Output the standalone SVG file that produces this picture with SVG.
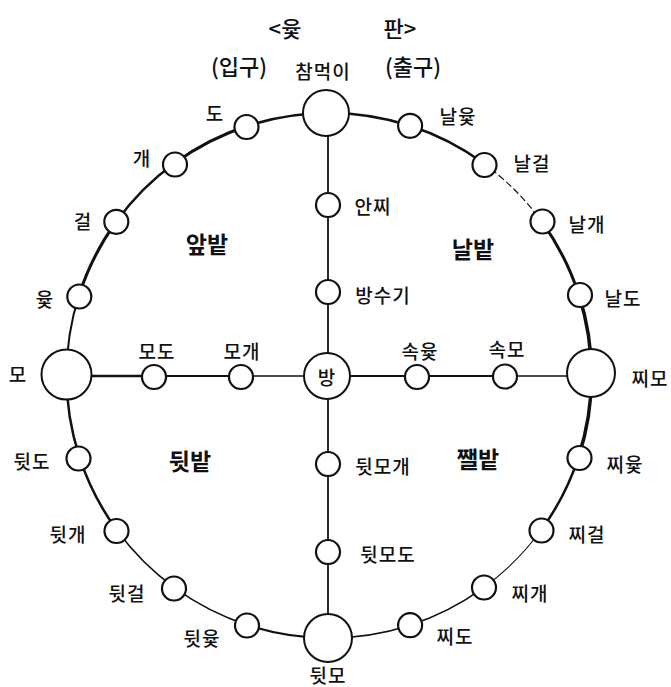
<svg xmlns="http://www.w3.org/2000/svg" width="671" height="687" viewBox="0 0 671 687">
<style>
  .bg{fill:#fff}
  .ring{fill:none;stroke:#111;stroke-linecap:round}
  .cross{fill:none;stroke:#111;stroke-linecap:butt}
  .n{fill:#fff;stroke:#111;stroke-width:2.2}
  .big{fill:#fff;stroke:#111;stroke-width:2}
  .lbl{font-family:"Noto Sans CJK KR","Noto Sans",sans-serif;font-size:19px;font-weight:500;text-anchor:middle;dominant-baseline:central;fill:#111;letter-spacing:1px}
  .ttl{font-family:"Noto Sans CJK KR","Noto Sans",sans-serif;font-size:22px;font-weight:500;text-anchor:middle;dominant-baseline:central;fill:#111}
  .field{font-family:"Noto Sans CJK KR","Noto Sans",sans-serif;font-size:23px;font-weight:bold;text-anchor:middle;dominant-baseline:central;fill:#111}
</style>
<rect class="bg" x="0" y="0" width="671" height="687"/>

<g id="title">
  <text class="ttl" x="285" y="27">&lt;윷</text>
  <text class="ttl" x="400" y="27">판&gt;</text>
  <text class="ttl" x="239" y="65">(입구)</text>
  <text class="ttl" x="413" y="65">(출구)</text>
</g>

<g id="connectors">
  <path class="ring" stroke-width="2.5" d="M329 113 A262.5 262.5 0 0 1 410.1 125.8"/>
  <path class="ring" stroke-width="2.5" d="M410.1 125.8 A262.5 262.5 0 0 1 483.3 163.1"/>
  <path class="ring" stroke-width="1.2" stroke-dasharray="6 4" d="M483.3 163.1 A262.5 262.5 0 0 1 541.4 221.2"/>
  <path class="ring" stroke-width="3" d="M541.4 221.2 A262.5 262.5 0 0 1 578.7 294.4"/>
  <path class="ring" stroke-width="3.5" d="M578.7 294.4 A262.5 262.5 0 0 1 591.5 375.5"/>
  <path class="ring" stroke-width="3.5" d="M591.5 375.5 A262.5 262.5 0 0 1 578.7 456.6"/>
  <path class="ring" stroke-width="2.5" d="M578.7 456.6 A262.5 262.5 0 0 1 541.4 529.8"/>
  <path class="ring" stroke-width="1.1" d="M541.4 529.8 A262.5 262.5 0 0 1 483.3 587.9"/>
  <path class="ring" stroke-width="1.6" d="M483.3 587.9 A262.5 262.5 0 0 1 410.1 625.2"/>
  <path class="ring" stroke-width="1.6" d="M410.1 625.2 A262.5 262.5 0 0 1 329 638"/>
  <path class="ring" stroke-width="2" d="M329 638 A262.5 262.5 0 0 1 247.9 625.2"/>
  <path class="ring" stroke-width="1.5" d="M247.9 625.2 A262.5 262.5 0 0 1 174.7 587.9"/>
  <path class="ring" stroke-width="1.5" d="M174.7 587.9 A262.5 262.5 0 0 1 116.6 529.8"/>
  <path class="ring" stroke-width="2.5" d="M116.6 529.8 A262.5 262.5 0 0 1 79.3 456.6"/>
  <path class="ring" stroke-width="2.5" d="M79.3 456.6 A262.5 262.5 0 0 1 66.5 375.5"/>
  <path class="ring" stroke-width="2" d="M66.5 375.5 A262.5 262.5 0 0 1 79.3 294.4"/>
  <path class="ring" stroke-width="3" d="M79.3 294.4 A262.5 262.5 0 0 1 116.6 221.2"/>
  <path class="ring" stroke-width="2.5" d="M116.6 221.2 A262.5 262.5 0 0 1 174.7 163.1"/>
  <path class="ring" stroke-width="3" d="M174.7 163.1 A262.5 262.5 0 0 1 247.9 125.8"/>
  <path class="ring" stroke-width="2.5" d="M247.9 125.8 A262.5 262.5 0 0 1 329 113"/>
  <path class="cross" stroke-width="1.8" d="M328 113 L328 638"/>
  <path class="cross" stroke-width="2.5" d="M66.5 376 L154 376"/>
  <path class="cross" stroke-width="2" d="M154 376 L241 376"/>
  <path class="cross" stroke-width="1.3" d="M241 376 L328 376"/>
  <path class="cross" stroke-width="2" d="M328 376 L505 376"/>
  <path class="cross" stroke-width="1.5" d="M505 376 L591.5 376"/>
</g>

<g id="fields">
  <text class="field" x="207" y="243">앞밭</text>
  <text class="field" x="473" y="248">날밭</text>
  <text class="field" x="190" y="460">뒷밭</text>
  <text class="field" x="478" y="458">쨀밭</text>
</g>

<g id="n-chammeogi"><circle class="big" cx="326" cy="113" r="23"/><text class="lbl" x="323" y="70">참먹이</text></g>
<g id="n-nalyut"><circle class="n" cx="410.1" cy="125.8" r="12"/><text class="lbl" x="458" y="115">날윷</text></g>
<g id="n-nalgeol"><circle class="n" cx="484.5" cy="165" r="12"/><text class="lbl" x="532" y="162">날걸</text></g>
<g id="n-nalgae"><circle class="n" cx="542.5" cy="221.5" r="12"/><text class="lbl" x="587" y="223">날개</text></g>
<g id="n-naldo"><circle class="n" cx="580" cy="295" r="12"/><text class="lbl" x="623" y="297">날도</text></g>
<g id="n-jjimo"><circle class="big" cx="591" cy="373" r="24"/><text class="lbl" x="650" y="377">찌모</text></g>
<g id="n-jjiyut"><circle class="n" cx="579.5" cy="458" r="12"/><text class="lbl" x="625" y="463">찌윷</text></g>
<g id="n-jjigeol"><circle class="n" cx="541.5" cy="530.5" r="12"/><text class="lbl" x="587" y="533">찌걸</text></g>
<g id="n-jjigae"><circle class="n" cx="484" cy="587.5" r="12"/><text class="lbl" x="530" y="592">찌개</text></g>
<g id="n-jjido"><circle class="n" cx="410.1" cy="625.2" r="12"/><text class="lbl" x="455" y="635">찌도</text></g>
<g id="n-dwitmo"><circle class="big" cx="328" cy="638" r="24"/><text class="lbl" x="328" y="674">뒷모</text></g>
<g id="n-dwityut"><circle class="n" cx="247" cy="625.5" r="12"/><text class="lbl" x="202" y="637">뒷윷</text></g>
<g id="n-dwitgeol"><circle class="n" cx="174" cy="588.5" r="12"/><text class="lbl" x="127" y="592">뒷걸</text></g>
<g id="n-dwitgae"><circle class="n" cx="116.5" cy="531" r="12"/><text class="lbl" x="68" y="533">뒷개</text></g>
<g id="n-dwitdo"><circle class="n" cx="78.5" cy="458.5" r="12"/><text class="lbl" x="32" y="460">뒷도</text></g>
<g id="n-mo"><circle class="big" cx="66.5" cy="374.5" r="25"/><text class="lbl" x="18" y="373">모</text></g>
<g id="n-yut"><circle class="n" cx="79.3" cy="296.5" r="12"/><text class="lbl" x="45" y="298">윷</text></g>
<g id="n-geol"><circle class="n" cx="116.3" cy="221.8" r="12"/><text class="lbl" x="83" y="220">걸</text></g>
<g id="n-gae"><circle class="n" cx="175" cy="164.5" r="12"/><text class="lbl" x="142" y="157">개</text></g>
<g id="n-do"><circle class="n" cx="246.5" cy="127" r="12"/><text class="lbl" x="215" y="112">도</text></g>

<g id="n-anjji"><circle class="n" cx="328" cy="205" r="12"/><text class="lbl" x="373" y="205">안찌</text></g>
<g id="n-bangsugi"><circle class="n" cx="328" cy="292" r="12"/><text class="lbl" x="383" y="294">방수기</text></g>
<g id="n-bang"><circle class="big" cx="327" cy="376" r="23"/><text class="lbl" x="327" y="376">방</text></g>
<g id="n-dwitmogae"><circle class="n" cx="328" cy="464" r="12"/><text class="lbl" x="383" y="465">뒷모개</text></g>
<g id="n-dwitmodo"><circle class="n" cx="328" cy="552" r="12"/><text class="lbl" x="388" y="553">뒷모도</text></g>
<g id="n-modo"><circle class="n" cx="154" cy="377" r="12"/><text class="lbl" x="157" y="350">모도</text></g>
<g id="n-mogae"><circle class="n" cx="241" cy="377" r="12"/><text class="lbl" x="242" y="350">모개</text></g>
<g id="n-sokyut"><circle class="n" cx="417" cy="377" r="12"/><text class="lbl" x="420" y="350">속윷</text></g>
<g id="n-sokmo"><circle class="n" cx="505" cy="376.5" r="12"/><text class="lbl" x="507" y="348">속모</text></g>
</svg>
